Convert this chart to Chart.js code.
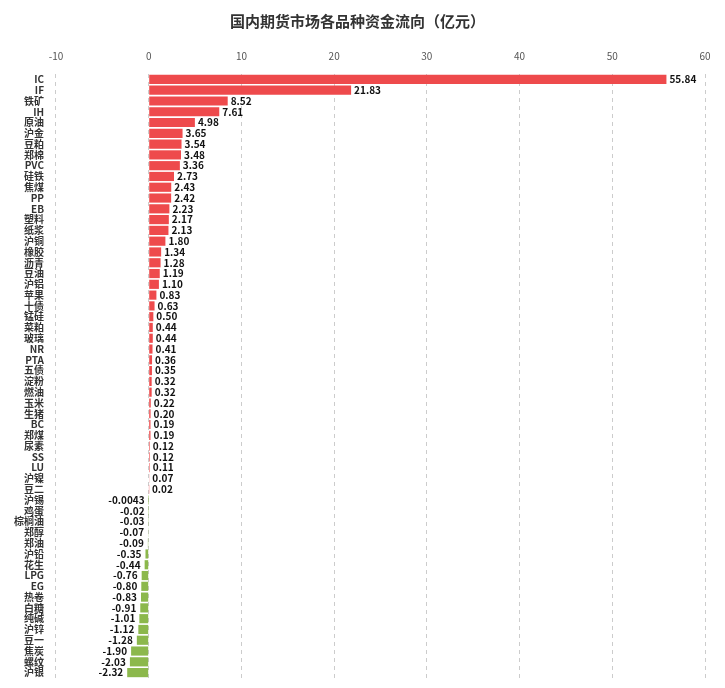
<!DOCTYPE html>
<html><head><meta charset="utf-8">
<script src="https://cdn.jsdelivr.net/npm/chart.js@4"></script>
<style>body{margin:0;background:#fff}#w{width:725px;height:688px}</style>
</head><body><div id="w"><canvas id="c"></canvas></div>
<script>
const categories=["IC","IF","铁矿","IH","原油","沪金","豆粕","郑棉","PVC","硅铁","焦煤","PP","EB","塑料","纸浆","沪铜","橡胶","沥青","豆油","沪铝","苹果","十债","锰硅","菜粕","玻璃","NR","PTA","五债","淀粉","燃油","玉米","生猪","BC","郑煤","尿素","SS","LU","沪镍","豆二","沪锡","鸡蛋","棕榈油","郑醇","郑油","沪铅","花生","LPG","EG","热卷","白糖","纯碱","沪锌","豆一","焦炭","螺纹","沪银"];
const values=[55.84,21.83,8.52,7.61,4.98,3.65,3.54,3.48,3.36,2.73,2.43,2.42,2.23,2.17,2.13,1.80,1.34,1.28,1.19,1.10,0.83,0.63,0.50,0.44,0.44,0.41,0.36,0.35,0.32,0.32,0.22,0.20,0.19,0.19,0.12,0.12,0.11,0.07,0.02,-0.0043,-0.02,-0.03,-0.07,-0.09,-0.35,-0.44,-0.76,-0.80,-0.83,-0.91,-1.01,-1.12,-1.28,-1.90,-2.03,-2.32];
const labels=["55.84","21.83","8.52","7.61","4.98","3.65","3.54","3.48","3.36","2.73","2.43","2.42","2.23","2.17","2.13","1.80","1.34","1.28","1.19","1.10","0.83","0.63","0.50","0.44","0.44","0.41","0.36","0.35","0.32","0.32","0.22","0.20","0.19","0.19","0.12","0.12","0.11","0.07","0.02","-0.0043","-0.02","-0.03","-0.07","-0.09","-0.35","-0.44","-0.76","-0.80","-0.83","-0.91","-1.01","-1.12","-1.28","-1.90","-2.03","-2.32"];
const F='"Noto Sans CJK SC","Noto Sans",sans-serif';
const valPlugin={id:'vals',afterDatasetsDraw(ch){const ctx=ch.ctx;const meta=ch.getDatasetMeta(0);ctx.save();ctx.font='bold 10px '+F;ctx.fillStyle='#111';ctx.textBaseline='middle';
meta.data.forEach((b,i)=>{const v=values[i];if(v>=0){ctx.textAlign='left';ctx.fillText(labels[i],b.x+3,b.y);}else{ctx.textAlign='right';ctx.fillText(labels[i],b.x-4,b.y);}});ctx.restore();}};
new Chart(document.getElementById('c'),{type:'bar',data:{labels:categories,datasets:[{data:values,backgroundColor:values.map(v=>v>=0?'#ee4a4c':'#8cb84c'),barPercentage:0.85,categoryPercentage:1}]},
options:{indexAxis:'y',responsive:true,maintainAspectRatio:false,animation:false,layout:{padding:{left:10,right:20,top:4,bottom:8}},
plugins:{legend:{display:false},tooltip:{enabled:false},title:{display:true,text:'国内期货市场各品种资金流向（亿元）',font:{family:F,size:15,weight:'bold'},color:'#333',padding:{top:8,bottom:8}}},
scales:{x:{position:'top',min:-10,max:60,ticks:{stepSize:10,padding:12,font:{family:F,size:10},color:'#555'},grid:{color:'#ccc',borderDash:[4,4],drawTicks:false,tickLength:0},border:{display:false,dash:[4,4]}},
y:{ticks:{autoSkip:false,font:{family:F,size:10,weight:'bold'},color:'#333',padding:4},grid:{display:false},border:{display:false}}}},plugins:[valPlugin]});
</script></body></html>
